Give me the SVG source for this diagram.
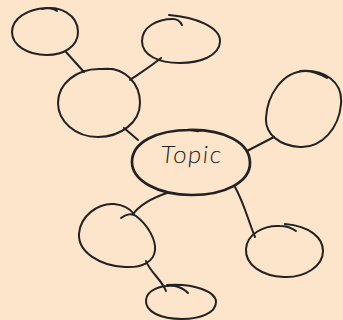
<svg xmlns="http://www.w3.org/2000/svg" width="343" height="320" viewBox="0 0 343 320">
<style>
.n{fill:none;stroke:#222;stroke-width:2;stroke-linecap:round;stroke-linejoin:round}
.t{fill:none;stroke:#222;stroke-width:2.7;stroke-linecap:round}
.c{fill:none;stroke:#222;stroke-width:2;stroke-linecap:round}
.lbl{font-family:Lato,"Open Sans",sans-serif;font-weight:300;font-size:24px;letter-spacing:1.5px;fill:#222}
</style>
<rect width="343" height="320" fill="#fde5cb"/>
<g id="connectors">
<path class="c" d="M66,52 L84,72"/>
<path class="c" d="M161,58 C150,67 140,73 130,80"/>
<path class="c" d="M124,128 L138,140"/>
<path class="c" d="M247,151 L274,137"/>
<path class="c" d="M167,193 C152,198 140,205 133,214"/>
<path class="c" d="M235,187 C244,203 248,220 255,237"/>
<path class="c" d="M146,261 C150,272 162,280 166,291"/>
</g>
<g id="node-tl"><path class="n" d="M42,9 C60,5 78,15 78,32 C78,47 63,55 47,55 C27,55 12,45 12,32 C12,18 28,9 46,8 C50,8 54,9 57,11"/></g>
<g id="node-tr"><path class="n" d="M169,15 C195,17 221,27 220,42 C219,56 200,63 180,63 C158,63 142,55 142,41 C142,27 157,19 173,19 C177,19 180,21 182,25"/></g>
<g id="node-ml"><path class="n" d="M102,69 C125,66 140,84 140,103 C140,122 121,137 98,137 C75,137 58,121 58,103 C58,84 76,69 99,69 C104,69 109,69 113,69"/></g>
<g id="node-topic"><path class="t" d="M188,130 C225,129 250,143 250,163 C250,182 225,195 192,195 C157,195 132,180 132,162 C132,142 157,130 190,130 C194,130 197,131 198,131"/>
<text class="lbl" x="191" y="163" text-anchor="middle" transform="skewX(-6) translate(17,0)">Topic</text></g>
<g id="node-r"><path class="n" d="M300,71 C325,69 343,82 341,104 C339,128 322,148 300,147 C280,146 265,134 266,118 C267,96 282,71 306,71 C312,71 318,73 327,78"/></g>
<g id="node-bl"><path class="n" d="M121,218 C126,214 132,213 136,216 C148,225 156,240 155,250 C154,262 142,268 125,267 C100,266 78,252 79,234 C80,216 98,203 114,204 C124,205 131,210 134,214"/></g>
<g id="node-br"><path class="n" d="M285,224 C310,226 323,238 323,251 C323,266 305,278 284,277 C262,276 245,265 246,249 C247,234 264,225 280,226 C286,226 292,228 296,231"/></g>
<g id="node-b"><path class="n" d="M167,285 C195,283 216,292 216,302 C216,313 200,319 182,319 C161,319 145,312 146,300 C147,290 160,285 175,286 C180,287 184,289 188,293"/></g>
</svg>
